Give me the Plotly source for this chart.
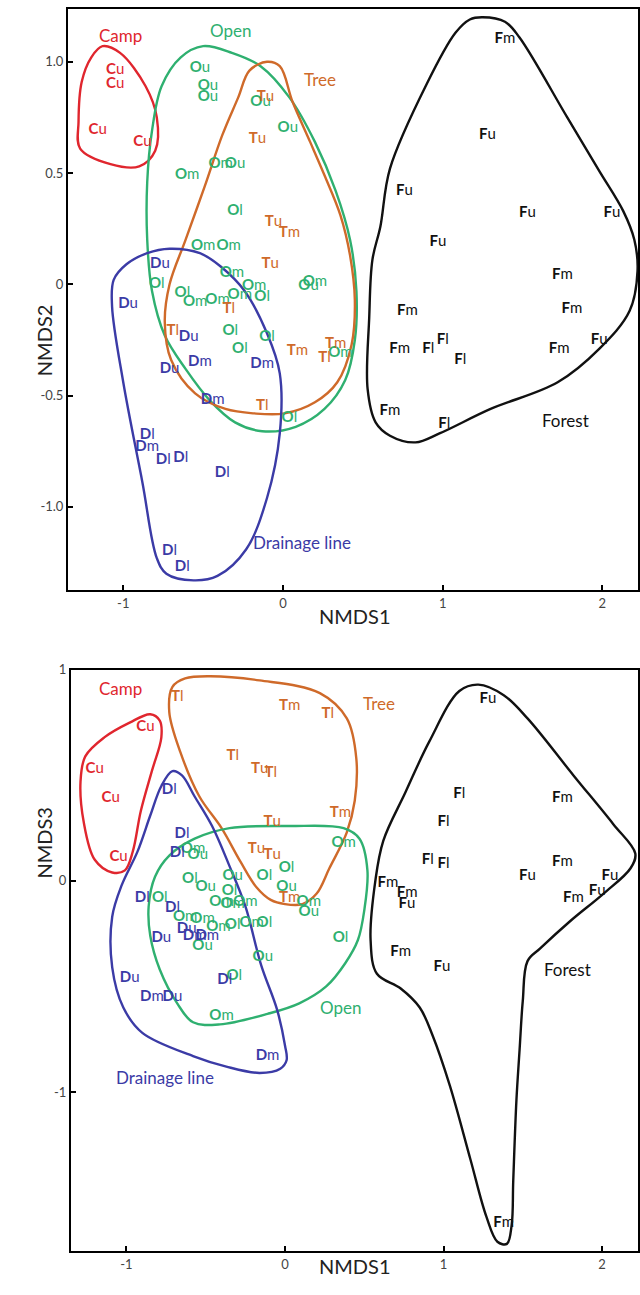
import plotly.graph_objects as go

FONT = "Lato"
COL = {"Camp": "#e0262e", "Open": "#2fb070", "Tree": "#cf6a2a",
       "Drainage line": "#3b3ba6", "Forest": "#111111"}

# ---------------- Panel 1: NMDS1 vs NMDS2 ----------------
P1_CAMP_X = [-1.05, -1.05, -1.16, -0.88]
P1_CAMP_Y = [0.96, 0.90, 0.69, 0.64]
P1_CAMP_L = ["Cu", "Cu", "Cu", "Cu"]

P1_OPEN_X = [-0.52, -0.47, -0.47, -0.14, 0.03, -0.60, -0.39, -0.30, -0.30, -0.50, -0.34, -0.32, 0.20,
             0.16, -0.79, -0.18, -0.13, -0.63, -0.55, -0.41, -0.27, -0.33, -0.10, -0.27, 0.36, 0.04]
P1_OPEN_Y = [0.97, 0.89, 0.84, 0.82, 0.70, 0.49, 0.54, 0.54, 0.33, 0.17, 0.17, 0.05, 0.01,
             -0.01, 0.00, -0.01, -0.06, -0.04, -0.08, -0.07, -0.05, -0.21, -0.24, -0.29, -0.31, -0.60]
P1_OPEN_L = ["Ou", "Ou", "Ou", "Ou", "Ou", "Om", "Om", "Ou", "Ol", "Om", "Om", "Om", "Om",
             "Ou", "Ol", "Om", "Ol", "Ol", "Om", "Om", "Om", "Ol", "Ol", "Ol", "Om", "Ol"]

P1_TREE_X = [-0.11, -0.16, -0.06, 0.04, -0.08, -0.34, -0.69, 0.09, 0.26, 0.33, -0.13]
P1_TREE_Y = [0.84, 0.65, 0.28, 0.23, 0.09, -0.11, -0.21, -0.30, -0.33, -0.27, -0.55]
P1_TREE_L = ["Tu", "Tu", "Tu", "Tm", "Tu", "Tl", "Tl", "Tm", "Tl", "Tm", "Tl"]

P1_DRAIN_X = [-0.77, -0.97, -0.59, -0.71, -0.52, -0.13, -0.44, -0.85, -0.85, -0.75, -0.64, -0.38, -0.71, -0.63]
P1_DRAIN_Y = [0.09, -0.09, -0.24, -0.38, -0.35, -0.36, -0.52, -0.68, -0.73, -0.79, -0.78, -0.85, -1.20, -1.27]
P1_DRAIN_L = ["Du", "Du", "Du", "Du", "Dm", "Dm", "Dm", "Dl", "Dm", "Dl", "Dl", "Dl", "Dl", "Dl"]

P1_FOREST_X = [1.39, 1.28, 0.76, 1.53, 2.06, 0.97, 1.75, 1.81, 0.78, 0.73, 0.91, 1.00, 1.11, 1.73, 1.98, 0.67, 1.01]
P1_FOREST_Y = [1.10, 0.67, 0.42, 0.32, 0.32, 0.19, 0.04, -0.11, -0.12, -0.29, -0.29, -0.25, -0.34, -0.29, -0.25, -0.57, -0.63]
P1_FOREST_L = ["Fm", "Fu", "Fu", "Fu", "Fu", "Fu", "Fm", "Fm", "Fm", "Fm", "Fl", "Fl", "Fl", "Fm", "Fu", "Fm", "Fl"]

# hull outlines (panel 1)
H1_CAMP_X = [-1.02, -0.86, -0.79, -0.80, -0.90, -1.08, -1.27, -1.28, -1.26, -1.20, -1.13]
H1_CAMP_Y = [1.04, 0.89, 0.75, 0.60, 0.53, 0.54, 0.61, 0.73, 0.91, 1.02, 1.07]
H1_OPEN_X = [-0.50, -0.32, -0.14, 0.04, 0.20, 0.33, 0.42, 0.46, 0.45, 0.39, 0.26, 0.08, -0.13, -0.30,
             -0.46, -0.61, -0.74, -0.82, -0.85, -0.85, -0.82, -0.76, -0.64]
H1_OPEN_Y = [1.07, 1.04, 0.98, 0.84, 0.64, 0.42, 0.20, -0.03, -0.25, -0.43, -0.56, -0.64, -0.66, -0.62,
             -0.52, -0.38, -0.23, -0.03, 0.20, 0.46, 0.69, 0.89, 1.02]
H1_TREE_X = [-0.10, -0.02, 0.06, 0.17, 0.26, 0.36, 0.42, 0.45, 0.43, 0.34, 0.20, 0.01, -0.18, -0.36,
             -0.55, -0.70, -0.74, -0.71, -0.61, -0.49, -0.38, -0.28, -0.21]
H1_TREE_Y = [1.00, 0.98, 0.82, 0.64, 0.49, 0.31, 0.13, -0.07, -0.27, -0.44, -0.53, -0.58, -0.58, -0.56,
             -0.49, -0.34, -0.17, 0.00, 0.20, 0.44, 0.67, 0.84, 0.96]
H1_DRAIN_X = [-0.71, -0.52, -0.39, -0.24, -0.10, -0.02, -0.02, -0.10, -0.23, -0.41, -0.56, -0.73,
              -0.79, -0.88, -1.00, -1.07, -1.06, -0.98, -0.85]
H1_DRAIN_Y = [0.16, 0.14, 0.08, -0.03, -0.22, -0.40, -0.67, -0.96, -1.19, -1.31, -1.33, -1.30,
              -1.23, -0.89, -0.44, -0.10, 0.02, 0.09, 0.14]
H1_FOREST_X = [1.25, 1.39, 1.48, 1.78, 1.98, 2.13, 2.20, 2.22, 2.17, 1.98, 1.72, 1.30, 0.98, 0.83,
               0.67, 0.58, 0.53, 0.54, 0.56, 0.61, 0.67, 0.90, 1.08, 1.17]
H1_FOREST_Y = [1.20, 1.18, 1.11, 0.75, 0.51, 0.33, 0.20, 0.06, -0.12, -0.29, -0.44, -0.56, -0.67, -0.71,
               -0.68, -0.62, -0.47, -0.15, 0.11, 0.26, 0.52, 0.90, 1.13, 1.19]

# ---------------- Panel 2: NMDS1 vs NMDS3 ----------------
P2_CAMP_X = [-0.88, -1.20, -1.10, -1.05]
P2_CAMP_Y = [0.73, 0.53, 0.39, 0.11]
P2_CAMP_L = ["Cu", "Cu", "Cu", "Cu"]

P2_TREE_X = [-0.68, 0.03, 0.27, -0.33, -0.16, -0.09, -0.08, 0.35, -0.18, -0.08, 0.03]
P2_TREE_Y = [0.87, 0.83, 0.79, 0.59, 0.53, 0.51, 0.28, 0.32, 0.15, 0.12, -0.08]
P2_TREE_L = ["Tl", "Tm", "Tl", "Tl", "Tu", "Tl", "Tu", "Tm", "Tu", "Tu", "Tm"]

P2_OPEN_X = [0.37, -0.58, -0.55, 0.01, -0.60, -0.50, -0.33, -0.13, 0.01, -0.35, -0.40, -0.33, -0.25,
             -0.79, 0.15, 0.15, -0.63, -0.52, -0.42, -0.33, -0.21, -0.13, -0.52, 0.35, -0.14, -0.32, -0.40]
P2_OPEN_Y = [0.18, 0.15, 0.12, 0.06, 0.01, -0.03, 0.02, 0.02, -0.03, -0.05, -0.10, -0.11, -0.10,
             -0.08, -0.10, -0.15, -0.17, -0.18, -0.22, -0.21, -0.20, -0.20, -0.31, -0.27, -0.36, -0.45, -0.64]
P2_OPEN_L = ["Om", "Om", "Ou", "Ol", "Ol", "Ou", "Ou", "Ol", "Ou", "Ol", "Om", "Om", "Om",
             "Ol", "Om", "Ou", "Om", "Om", "Om", "Ol", "Om", "Ol", "Ou", "Ol", "Ou", "Ol", "Om"]

P2_DRAIN_X = [-0.73, -0.65, -0.68, -0.90, -0.71, -0.62, -0.78, -0.57, -0.49, -0.38, -0.98, -0.84, -0.71, -0.11]
P2_DRAIN_Y = [0.43, 0.22, 0.13, -0.08, -0.13, -0.23, -0.27, -0.26, -0.26, -0.47, -0.46, -0.55, -0.55, -0.83]
P2_DRAIN_L = ["Dl", "Dl", "Dl", "Dl", "Dl", "Du", "Du", "Dm", "Dm", "Dl", "Du", "Dm", "Du", "Dm"]

P2_FOREST_X = [1.28, 1.10, 1.75, 1.00, 0.90, 1.00, 1.75, 1.53, 2.05, 1.97, 1.82, 0.65, 0.77, 0.77, 0.73, 0.99, 1.38]
P2_FOREST_Y = [0.86, 0.41, 0.39, 0.28, 0.10, 0.08, 0.09, 0.02, 0.02, -0.05, -0.08, -0.01, -0.06, -0.11, -0.34, -0.41, -1.62]
P2_FOREST_L = ["Fu", "Fl", "Fm", "Fl", "Fl", "Fl", "Fm", "Fu", "Fu", "Fu", "Fm", "Fm", "Fm", "Fu", "Fm", "Fu", "Fm"]

H2_CAMP_X = [-0.79, -0.78, -0.84, -0.91, -0.96, -1.01, -1.09, -1.20, -1.27, -1.29, -1.26, -1.14, -0.98, -0.85]
H2_CAMP_Y = [0.76, 0.68, 0.52, 0.33, 0.14, 0.05, 0.04, 0.10, 0.28, 0.47, 0.59, 0.68, 0.75, 0.79]
H2_TREE_X = [-0.16, 0.22, 0.39, 0.45, 0.44, 0.39, 0.28, 0.20, 0.11, 0.00, -0.09, -0.18, -0.28, -0.40,
             -0.54, -0.66, -0.73, -0.71, -0.63, -0.47]
H2_TREE_Y = [0.95, 0.89, 0.77, 0.58, 0.38, 0.23, 0.06, -0.06, -0.11, -0.11, -0.09, -0.03, 0.09, 0.25,
             0.40, 0.61, 0.80, 0.92, 0.96, 0.97]
H2_OPEN_X = [0.03, 0.37, 0.47, 0.52, 0.50, 0.46, 0.38, 0.26, 0.09, -0.11, -0.41, -0.58, -0.68, -0.79,
             -0.85, -0.86, -0.82, -0.73, -0.57, -0.35]
H2_OPEN_Y = [0.26, 0.25, 0.20, 0.05, -0.14, -0.28, -0.39, -0.50, -0.58, -0.63, -0.68, -0.67, -0.58, -0.42,
             -0.26, -0.12, 0.02, 0.12, 0.20, 0.25]
H2_DRAIN_X = [-0.46, -0.35, -0.25, -0.15, -0.05, 0.00, 0.01, -0.03, -0.16, -0.37, -0.58, -0.90, -1.02,
              -1.09, -1.09, -1.03, -0.93, -0.85, -0.78, -0.71, -0.65, -0.57]
H2_DRAIN_Y = [0.26, 0.07, -0.12, -0.40, -0.61, -0.78, -0.85, -0.89, -0.91, -0.88, -0.83, -0.72, -0.60,
              -0.41, -0.17, -0.02, 0.14, 0.31, 0.45, 0.52, 0.50, 0.40]
H2_FOREST_X = [1.53, 1.82, 2.07, 2.21, 2.18, 2.01, 1.80, 1.61, 1.53, 1.50, 1.48, 1.46, 1.44, 1.43, 1.40,
               1.34, 1.27, 1.17, 1.04, 0.93, 0.85, 0.73, 0.58, 0.54, 0.57, 0.62, 0.76, 0.91, 1.10, 1.22, 1.38]
H2_FOREST_Y = [0.77, 0.50, 0.27, 0.13, 0.06, -0.06, -0.19, -0.32, -0.38, -0.57, -0.80, -1.04, -1.42, -1.63, -1.72,
               -1.71, -1.59, -1.32, -0.97, -0.73, -0.60, -0.51, -0.44, -0.28, 0.00, 0.19, 0.42, 0.66, 0.90, 0.93, 0.88]

# group name labels (x, y)
GROUP_NAMES = ["Camp", "Open", "Tree", "Forest", "Drainage line"]
P1_NAME_X = [-1.02, -0.33, 0.23, 1.77, 0.12]
P1_NAME_Y = [1.12, 1.14, 0.92, -0.61, -1.16]
P2_NAME_X = [-1.04, 0.35, 0.59, 1.78, -0.76]
P2_NAME_Y = [0.91, -0.60, 0.84, -0.42, -0.93]

fig = go.Figure()


def fmt(labels):
    return ["<b>%s</b>%s" % (s[0], s[1:]) for s in labels]


def add_hull(xs, ys, color, xa, ya):
    fig.add_trace(go.Scatter(x=xs + xs[:1], y=ys + ys[:1], mode="lines",
                             line=dict(color=color, width=2.4, shape="spline", smoothing=1.0),
                             xaxis=xa, yaxis=ya, hoverinfo="skip", showlegend=False))


def add_pts(xs, ys, labs, color, xa, ya):
    fig.add_trace(go.Scatter(x=xs, y=ys, mode="text", text=fmt(labs),
                             textfont=dict(family=FONT, size=15, color=color),
                             textposition="middle center",
                             xaxis=xa, yaxis=ya, showlegend=False))


# panel 1
add_hull(H1_CAMP_X, H1_CAMP_Y, COL["Camp"], "x", "y")
add_hull(H1_OPEN_X, H1_OPEN_Y, COL["Open"], "x", "y")
add_hull(H1_TREE_X, H1_TREE_Y, COL["Tree"], "x", "y")
add_hull(H1_DRAIN_X, H1_DRAIN_Y, COL["Drainage line"], "x", "y")
add_hull(H1_FOREST_X, H1_FOREST_Y, COL["Forest"], "x", "y")
add_pts(P1_CAMP_X, P1_CAMP_Y, P1_CAMP_L, COL["Camp"], "x", "y")
add_pts(P1_OPEN_X, P1_OPEN_Y, P1_OPEN_L, COL["Open"], "x", "y")
add_pts(P1_TREE_X, P1_TREE_Y, P1_TREE_L, COL["Tree"], "x", "y")
add_pts(P1_DRAIN_X, P1_DRAIN_Y, P1_DRAIN_L, COL["Drainage line"], "x", "y")
add_pts(P1_FOREST_X, P1_FOREST_Y, P1_FOREST_L, COL["Forest"], "x", "y")

# panel 2
add_hull(H2_CAMP_X, H2_CAMP_Y, COL["Camp"], "x2", "y2")
add_hull(H2_TREE_X, H2_TREE_Y, COL["Tree"], "x2", "y2")
add_hull(H2_OPEN_X, H2_OPEN_Y, COL["Open"], "x2", "y2")
add_hull(H2_DRAIN_X, H2_DRAIN_Y, COL["Drainage line"], "x2", "y2")
add_hull(H2_FOREST_X, H2_FOREST_Y, COL["Forest"], "x2", "y2")
add_pts(P2_CAMP_X, P2_CAMP_Y, P2_CAMP_L, COL["Camp"], "x2", "y2")
add_pts(P2_TREE_X, P2_TREE_Y, P2_TREE_L, COL["Tree"], "x2", "y2")
add_pts(P2_OPEN_X, P2_OPEN_Y, P2_OPEN_L, COL["Open"], "x2", "y2")
add_pts(P2_DRAIN_X, P2_DRAIN_Y, P2_DRAIN_L, COL["Drainage line"], "x2", "y2")
add_pts(P2_FOREST_X, P2_FOREST_Y, P2_FOREST_L, COL["Forest"], "x2", "y2")

annotations = []
for name, x, y in zip(GROUP_NAMES, P1_NAME_X, P1_NAME_Y):
    annotations.append(dict(x=x, y=y, xref="x", yref="y", text=name, showarrow=False,
                            font=dict(family=FONT, size=17, color=COL[name])))
for name, x, y in zip(GROUP_NAMES, P2_NAME_X, P2_NAME_Y):
    annotations.append(dict(x=x, y=y, xref="x2", yref="y2", text=name, showarrow=False,
                            font=dict(family=FONT, size=17, color=COL[name])))

W, H = 640, 1295
title_font = dict(family=FONT, size=20, color="#222")
annotations += [
    dict(x=30 / W, y=1 - 296 / H, xref="paper", yref="paper", text="NMDS2", textangle=-90,
         showarrow=False, font=title_font),
    dict(x=355 / W, y=1 - 612 / H, xref="paper", yref="paper", text="NMDS1",
         showarrow=False, font=title_font),
    dict(x=30 / W, y=1 - 878 / H, xref="paper", yref="paper", text="NMDS3", textangle=-90,
         showarrow=False, font=title_font),
    dict(x=355 / W, y=1 - 1280 / H, xref="paper", yref="paper", text="NMDS1",
         showarrow=False, font=title_font),
]

axis_common = dict(showline=True, linecolor="black", linewidth=2, mirror=True, showgrid=False,
                   zeroline=False, ticks="inside", ticklen=5, tickwidth=2, tickcolor="black",
                   tickfont=dict(family=FONT, size=13, color="#444"))

fig.update_layout(
    width=W, height=H, margin=dict(l=0, r=0, t=0, b=0),
    paper_bgcolor="white", plot_bgcolor="white",
    xaxis=dict(domain=[68 / W, 638 / W], range=[-1.346, 2.223], anchor="y",
               tickvals=[-1, 0, 1, 2], ticktext=["-1", "0", "1", "2"], **axis_common),
    yaxis=dict(domain=[1 - 586 / H, 1 - 1 / H], range=[-1.375, 1.237], anchor="x",
               tickvals=[1.0, 0.5, 0, -0.5, -1.0], ticktext=["1.0", "0.5", "0", "-0.5", "-1.0"],
               **axis_common),
    xaxis2=dict(domain=[71 / W, 638 / W], range=[-1.350, 2.227], anchor="y2",
                tickvals=[-1, 0, 1, 2], ticktext=["-1", "0", "1", "2"], **axis_common),
    yaxis2=dict(domain=[1 - 1251 / H, 1 - 666 / H], range=[-1.755, 1.0], anchor="x2",
                tickvals=[1, 0, -1], ticktext=["1", "0", "-1"], **axis_common),
    annotations=annotations,
)

fig.write_html("out.html", config={"displayModeBar": False},
               post_script="document.body.style.margin='0';document.body.style.padding='0';")
